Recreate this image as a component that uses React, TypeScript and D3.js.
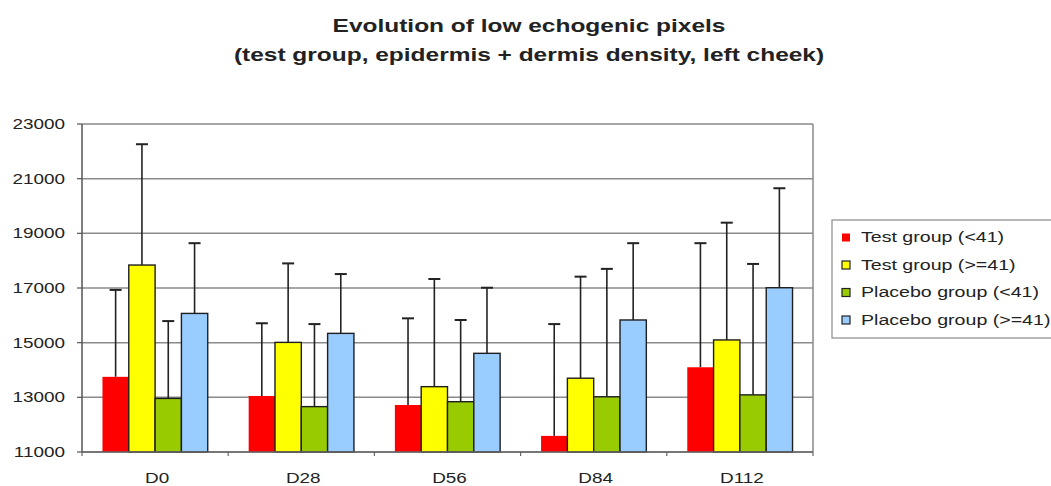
import React from 'react'
import * as d3 from 'd3'

const categories = ['D0', 'D28', 'D56', 'D84', 'D112']
const seriesNames = ['Test group (<41)', 'Test group (>=41)', 'Placebo group (<41)', 'Placebo group (>=41)']
const seriesColors = ['#ff0000', '#ffff00', '#99cc00', '#99ccff']

// mean values per series, one per visit
const testUnder41 = [13750, 13050, 12720, 11590, 14100]
const testOver41 = [17840, 15010, 13390, 13700, 15100]
const placeboUnder41 = [12960, 12660, 12840, 13020, 13090]
const placeboOver41 = [16070, 15340, 14610, 15830, 17010]

// standard deviations (upper error bars only)
const testUnder41Sd = [3180, 2660, 3170, 4090, 4540]
const testOver41Sd = [4420, 2890, 3940, 3715, 4290]
const placeboUnder41Sd = [2830, 3020, 2990, 4680, 4790]
const placeboOver41Sd = [2570, 2170, 2400, 2810, 3640]

const yTicks = [11000, 13000, 15000, 17000, 19000, 21000, 23000]

const W = 1051
const H = 486
const FONT = '"Liberation Sans", Arial, sans-serif'
const SX = 1.36 // the source image is stretched sideways

export default function App() {
  const means = [testUnder41, testOver41, placeboUnder41, placeboOver41]
  const sds = [testUnder41Sd, testOver41Sd, placeboUnder41Sd, placeboOver41Sd]

  const plot = { left: 82, right: 813, top: 124, bottom: 452 }

  const x0 = d3.scaleBand().domain(categories).range([plot.left, plot.right]).paddingInner(0.28).paddingOuter(0.14)
  const x1 = d3.scaleBand().domain(seriesNames).range([0, x0.bandwidth()])
  const y = d3.scaleLinear().domain([11000, 23000]).range([plot.bottom, plot.top])
  const step = x0.step()

  const legend = { x: 832, y: 220, w: 220, h: 118, row: 27.5 }

  return (
    <svg width={W} height={H} style={{ position: 'absolute', left: 0, top: 0, background: '#fff' }} fontFamily={FONT}>
      <rect width={W} height={H} fill="#fff" />

      {/* title */}
      <text transform={`translate(529,32) scale(${SX},1)`} textAnchor="middle" fontSize={18} fontWeight="bold" fill="#222">
        Evolution of low echogenic pixels
      </text>
      <text transform={`translate(529,61) scale(${SX},1)`} textAnchor="middle" fontSize={18} fontWeight="bold" fill="#222">
        (test group, epidermis + dermis density, left cheek)
      </text>

      {/* grid */}
      {yTicks.map(t => (
        <g key={t}>
          <line x1={plot.left} x2={plot.right} y1={y(t)} y2={y(t)} stroke="#8a8a8a" strokeWidth={1.5} />
          <line x1={plot.left - 5} x2={plot.left} y1={y(t)} y2={y(t)} stroke="#555" strokeWidth={1.2} />
          <text transform={`translate(65,${y(t)}) scale(1.35,1)`} textAnchor="end" dy="0.36em" fontSize={14} fill="#222">
            {t}
          </text>
        </g>
      ))}
      <line x1={plot.right} x2={plot.right} y1={plot.top} y2={plot.bottom} stroke="#8a8a8a" strokeWidth={1.5} />
      <line x1={plot.left} x2={plot.left} y1={plot.top} y2={plot.bottom} stroke="#555" strokeWidth={1.5} />

      {/* bars */}
      {categories.map((c, ci) => (
        <g key={c}>
          {seriesNames.map((s, si) => {
            const bx = (x0(c) as number) + (x1(s) as number)
            const bw = x1.bandwidth()
            const v = means[si][ci]
            const top = y(v)
            const ex = bx + bw / 2
            const eTop = y(v + sds[si][ci])
            return (
              <g key={s}>
                <line x1={ex} x2={ex} y1={top} y2={eTop} stroke="#222" strokeWidth={1.6} />
                <line x1={ex - 6} x2={ex + 6} y1={eTop} y2={eTop} stroke="#222" strokeWidth={2} />
                <rect x={bx} y={top} width={bw} height={plot.bottom - top} fill={seriesColors[si]}
                  stroke={si === 0 ? 'none' : '#1e1e1e'} strokeWidth={1.4} />
              </g>
            )
          })}
          <text transform={`translate(${(x0(c) as number) + x0.bandwidth() / 2 + 2},483) scale(1.35,1)`} textAnchor="middle" fontSize={14} fill="#222">
            {c}
          </text>
        </g>
      ))}

      {/* x axis */}
      <line x1={plot.left} x2={plot.right} y1={plot.bottom} y2={plot.bottom} stroke="#666" strokeWidth={1.5} />
      {d3.range(categories.length + 1).map(i => (
        <line key={i} x1={plot.left + i * step} x2={plot.left + i * step} y1={plot.bottom} y2={plot.bottom + 4} stroke="#666" strokeWidth={1.2} />
      ))}

      {/* legend */}
      <rect x={legend.x} y={legend.y} width={legend.w} height={legend.h} fill="#fff" stroke="#8a8a8a" strokeWidth={1.2} />
      {seriesNames.map((s, si) => {
        const by = legend.y + 22 + si * legend.row
        return (
          <g key={s}>
            <rect x={842} y={by - 8.5} width={8} height={8} fill={seriesColors[si]} stroke={si === 0 ? 'none' : '#222'} strokeWidth={1.2} />
            <text transform={`translate(861,${by}) scale(1.4,1)`} fontSize={14} fill="#222">
              {s}
            </text>
          </g>
        )
      })}
    </svg>
  )
}
